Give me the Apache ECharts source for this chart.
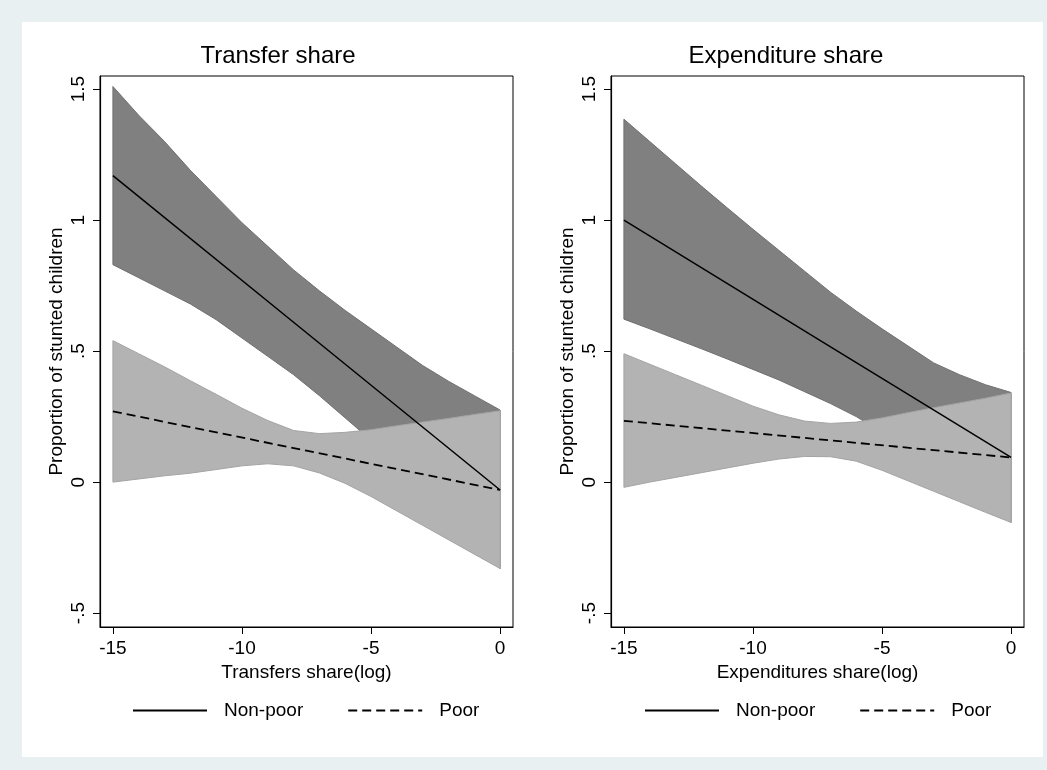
<!DOCTYPE html>
<html><head><meta charset="utf-8">
<script src="https://cdn.jsdelivr.net/npm/echarts@6/dist/echarts.min.js"></script>
<style>html,body{margin:0;padding:0;background:#E8F0F2}#c{width:1047px;height:770px}</style>
</head><body><div id="c"></div>
<script>
// ---- data ----
const bandX = [-15,-14,-13,-12,-11,-10,-9,-8,-7,-6,-5,-4,-3,-2,-1,0];
// Transfer share panel
const trNonPoorHi = [1.51,1.40,1.30,1.19,1.09,0.99,0.90,0.81,0.73,0.655,0.585,0.515,0.445,0.385,0.33,0.275];
const trNonPoorLo = [0.83,0.78,0.73,0.68,0.62,0.55,0.48,0.41,0.33,0.245,0.16,0.07,-0.02,-0.12,-0.22,-0.33];
const trPoorHi    = [0.54,0.49,0.44,0.387,0.335,0.282,0.235,0.197,0.185,0.19,0.20,0.215,0.229,0.243,0.258,0.272];
const trPoorLo    = [0.0,0.012,0.024,0.034,0.048,0.062,0.07,0.062,0.035,-0.005,-0.055,-0.11,-0.165,-0.22,-0.275,-0.33];
// Expenditure share panel
const exNonPoorHi = [1.385,1.30,1.215,1.13,1.047,0.965,0.885,0.805,0.725,0.653,0.585,0.52,0.455,0.41,0.372,0.342];
const exNonPoorLo = [0.622,0.585,0.547,0.509,0.47,0.43,0.39,0.345,0.30,0.25,0.19,0.13,0.065,0.0,-0.075,-0.154];
const exPoorHi    = [0.49,0.45,0.41,0.37,0.33,0.29,0.257,0.233,0.224,0.229,0.245,0.265,0.284,0.302,0.32,0.34];
const exPoorLo    = [-0.02,0.0,0.018,0.036,0.054,0.072,0.088,0.098,0.097,0.08,0.045,0.005,-0.035,-0.075,-0.115,-0.154];
// fitted lines
const lineX = [-15,-7.5,0];
const trNonPoor = [1.17,0.57,-0.03];
const trPoor    = [0.27,0.12,-0.03];
const exNonPoor = [1.0,0.547,0.094];
const exPoor    = [0.234,0.164,0.094];
// axes
const xTickVals = [-15,-10,-5,0];
const yTickVals = [-0.5,0,0.5,1,1.5];
const yTickLabels = ['-.5','0','.5','1','1.5'];
const panelTitles = ['Transfer share','Expenditure share'];
const xTitles = ['Transfers share(log)','Expenditures share(log)'];
const yTitle = 'Proportion of stunted children';
const seriesNames = ['Non-poor','Poor'];

const FONT = "'Liberation Sans', Arial, Helvetica, sans-serif";
const chart = echarts.init(document.getElementById('c'), null, {renderer:'canvas'});

function band(idx, lo, hi, fill, stroke){
  return {
    type:'custom', xAxisIndex:idx, yAxisIndex:idx, silent:true,
    data: bandX.map((x,i)=>[x, lo[i], hi[i]]),
    encode:{x:0, y:[1,2]},
    renderItem:(params, api)=>{
      if (params.dataIndex !== 0) return null;
      const pts = [];
      for (let i=0;i<bandX.length;i++) pts.push(api.coord([bandX[i], hi[i]]));
      for (let i=bandX.length-1;i>=0;i--) pts.push(api.coord([bandX[i], lo[i]]));
      return {type:'polygon', shape:{points:pts}, style:{fill:fill, stroke:stroke, lineWidth:1}};
    }
  };
}
function line(idx, name, vals, dashed){
  return {
    type:'line', name:name, xAxisIndex:idx, yAxisIndex:idx, symbol:'none', silent:true,
    data: lineX.map((x,i)=>[x, vals[i]]),
    lineStyle:{color:'#000', width: dashed?1.8:1.5, type: dashed?[9,5]:'solid'},
    itemStyle:{color:'#000'}, z:5
  };
}
const grids = [{left:100, top:76, width:413, height:551}, {left:611, top:76, width:413, height:551}];
const xAxes = [0,1].map(i=>({
  type:'value', gridIndex:i, min:-15.5, max:0.5,
  name:xTitles[i], nameLocation:'middle', nameGap:33,
  nameTextStyle:{fontSize:19, color:'#000', fontFamily:FONT},
  axisLine:{show:true, onZero:false, lineStyle:{color:'#000', width:1.2}},
  axisTick:{show:true, length:7, customValues:xTickVals, lineStyle:{color:'#000', width:1}},
  axisLabel:{customValues:xTickVals, fontSize:19, color:'#000', fontFamily:FONT, margin:12},
  splitLine:{show:false}
}));
const yAxes = [0,1].map(i=>({
  type:'value', gridIndex:i, min:-0.553, max:1.55,
  name:yTitle, nameLocation:'middle', nameGap:34,
  nameTextStyle:{fontSize:19, color:'#000', fontFamily:FONT},
  axisLine:{show:true, onZero:false, lineStyle:{color:'#000', width:1.2}},
  axisTick:{show:true, length:7, customValues:yTickVals, lineStyle:{color:'#000', width:1}},
  axisLabel:{customValues:yTickVals, rotate:90, fontSize:19, color:'#000', fontFamily:FONT, margin:12,
    formatter:(v)=>{const k=yTickVals.findIndex(t=>Math.abs(t-v)<1e-9); return k>=0?yTickLabels[k]:'';}},
  splitLine:{show:false}
}));
const legendBase = {data:seriesNames, top:701, itemWidth:74, itemHeight:20, itemGap:44, selectedMode:false, padding:0,
  itemStyle:{opacity:0},
  textStyle:{fontSize:19, color:'#000', fontFamily:FONT, padding:[0,0,0,12]}};
const option = {
  backgroundColor:'#E8F0F2',
  animation:false,
  textStyle:{fontFamily:FONT},
  graphic:[{type:'rect', shape:{x:22,y:22,width:1021,height:735}, style:{fill:'#fff'}, silent:true, z:-10}],
  title:[
    {text:panelTitles[0], left:278, top:44, textAlign:'center', padding:0, textStyle:{fontSize:24, fontWeight:'normal', color:'#000', fontFamily:FONT}},
    {text:panelTitles[1], left:786, top:44, textAlign:'center', padding:0, textStyle:{fontSize:24, fontWeight:'normal', color:'#000', fontFamily:FONT}}
  ],
  legend:[
    Object.assign({left:132}, legendBase),
    Object.assign({left:644}, legendBase)
  ],
  grid: grids.map(g=>Object.assign({show:true, borderColor:'#000', borderWidth:1, backgroundColor:'#fff'}, g)),
  xAxis:xAxes, yAxis:yAxes,
  series:[
    band(0, trNonPoorLo, trNonPoorHi, '#808080', '#707070'),
    band(0, trPoorLo, trPoorHi, '#b3b3b3', '#a4a4a4'),
    line(0, seriesNames[0], trNonPoor, false),
    line(0, seriesNames[1], trPoor, true),
    band(1, exNonPoorLo, exNonPoorHi, '#808080', '#707070'),
    band(1, exPoorLo, exPoorHi, '#b3b3b3', '#a4a4a4'),
    line(1, seriesNames[0], exNonPoor, false),
    line(1, seriesNames[1], exPoor, true)
  ]
};
chart.setOption(option);
</script></body></html>
